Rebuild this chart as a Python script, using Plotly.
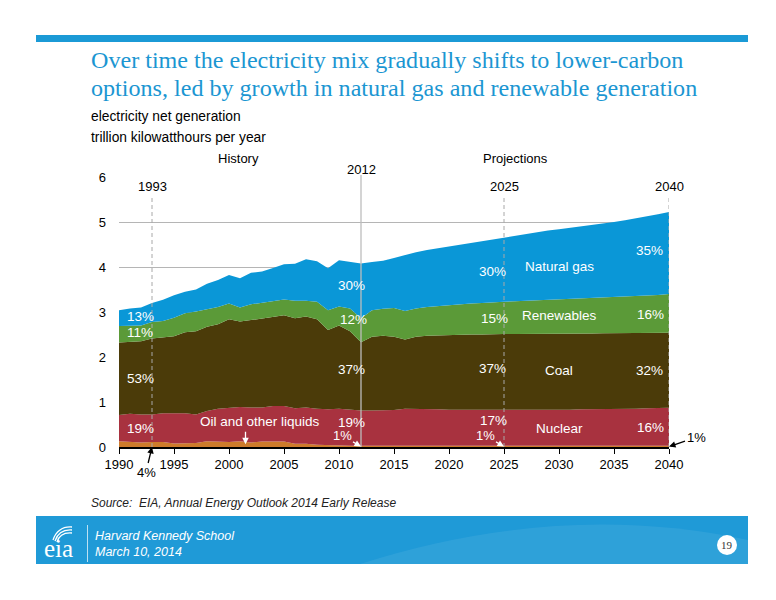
import plotly.graph_objects as go

# ---------------- data (trillion kWh) ----------------
years = list(range(1990, 2041))

oil = [0.13, 0.12, 0.10, 0.11, 0.11, 0.08, 0.08, 0.09, 0.13, 0.12,
       0.11, 0.13, 0.10, 0.12, 0.12, 0.12, 0.07, 0.07, 0.05, 0.04,
       0.04, 0.03, 0.03,
       0.03, 0.03, 0.03, 0.03, 0.03, 0.03, 0.03, 0.03, 0.03, 0.03,
       0.03, 0.03, 0.03, 0.03, 0.03, 0.03, 0.03, 0.03, 0.03, 0.03,
       0.03, 0.03, 0.03, 0.03, 0.03, 0.03, 0.03, 0.03]

nuclear = [0.58, 0.62, 0.62, 0.61, 0.64, 0.67, 0.67, 0.63, 0.67, 0.73,
           0.76, 0.76, 0.78, 0.76, 0.79, 0.79, 0.79, 0.81, 0.80, 0.80,
           0.81, 0.80, 0.78,
           0.78, 0.78, 0.79, 0.82, 0.82, 0.81, 0.81, 0.80, 0.80, 0.80,
           0.79, 0.79, 0.79, 0.79, 0.79, 0.79, 0.79, 0.80, 0.80, 0.81,
           0.81, 0.81, 0.81, 0.82, 0.82, 0.83, 0.83, 0.84]

coal = [1.61, 1.60, 1.63, 1.69, 1.69, 1.71, 1.80, 1.85, 1.87, 1.88,
        1.97, 1.90, 1.94, 1.98, 1.98, 2.02, 2.00, 2.02, 1.99, 1.76,
        1.85, 1.74, 1.52,
        1.64, 1.66, 1.63, 1.54, 1.60, 1.63, 1.64, 1.66, 1.66, 1.67,
        1.68, 1.69, 1.69, 1.69, 1.69, 1.70, 1.70, 1.69, 1.69, 1.68,
        1.68, 1.69, 1.69, 1.68, 1.68, 1.68, 1.68, 1.67]

renewables = [0.37, 0.36, 0.35, 0.37, 0.36, 0.41, 0.42, 0.44, 0.39, 0.38,
              0.35, 0.31, 0.35, 0.35, 0.35, 0.35, 0.39, 0.35, 0.39, 0.44,
              0.42, 0.51, 0.53,
              0.59, 0.60, 0.64, 0.63, 0.63, 0.64, 0.65, 0.67, 0.68, 0.69,
              0.70, 0.71, 0.72, 0.73, 0.74, 0.74, 0.75, 0.76, 0.77, 0.78,
              0.79, 0.79, 0.80, 0.81, 0.82, 0.83, 0.84, 0.86]

natural_gas = [0.35, 0.38, 0.40, 0.42, 0.47, 0.50, 0.48, 0.49, 0.57, 0.60,
               0.63, 0.65, 0.70, 0.69, 0.74, 0.78, 0.82, 0.92, 0.90, 0.93,
               1.03, 1.04, 1.22,
               1.07, 1.07, 1.11, 1.25, 1.25, 1.27, 1.29, 1.29, 1.32, 1.34,
               1.37, 1.39, 1.42, 1.46, 1.49, 1.52, 1.54, 1.56, 1.58, 1.60,
               1.62, 1.65, 1.67, 1.70, 1.73, 1.75, 1.79, 1.82]

series_names = ["Oil and other liquids", "Nuclear", "Coal", "Renewables", "Natural gas"]
series_values = [oil, nuclear, coal, renewables, natural_gas]
series_colors = ["#CD7B2B", "#A8323F", "#4B3B09", "#5B9A38", "#0A97D7"]

x_ticks = list(range(1990, 2041, 5))
y_ticks = [0, 1, 2, 3, 4, 5, 6]

marker_years = [1993, 2025, 2040]
history_end = 2012

title_lines = ["Over time the electricity mix gradually shifts to lower-carbon",
               "options, led by growth in natural gas and renewable generation"]
subtitle_lines = ["electricity net generation", "trillion kilowatthours per year"]
source_text = "Source:  EIA, Annual Energy Outlook 2014 Early Release"

# ---------------- figure ----------------
W, H = 776, 600
L, R, T, B = 119, 107, 177, 153
PW, PH = W - L - R, H - T - B

def pxx(p):
    return (p - L) / PW

def pxy(p):
    return (H - B - p) / PH

fig = go.Figure()
for name, vals, col in zip(series_names, series_values, series_colors):
    fig.add_trace(go.Scatter(
        x=years, y=vals, name=name, stackgroup="one", mode="lines",
        line=dict(width=0, color=col), fillcolor=col, hoverinfo="skip"))

SANS = "Liberation Sans, Arial, sans-serif"
SERIF = "Liberation Serif, Times New Roman, serif"

annotations = []

def txt(x, y, s, size=13, color="black", xanchor="center", ref="data", family=SANS, **kw):
    d = dict(x=x, y=y, text=s, showarrow=False, xanchor=xanchor, yanchor="middle",
             font=dict(family=family, size=size, color=color))
    if ref == "paper":
        d.update(xref="paper", yref="paper")
    d.update(kw)
    annotations.append(d)

# Header texts
txt(pxx(89), pxy(60), title_lines[0], size=24.1, color="#1B96D2", xanchor="left", ref="paper", family=SERIF)
txt(pxx(89), pxy(88), title_lines[1], size=24.1, color="#1B96D2", xanchor="left", ref="paper", family=SERIF)
txt(pxx(89), pxy(117), subtitle_lines[0], size=13.8, xanchor="left", ref="paper")
txt(pxx(89), pxy(137), subtitle_lines[1], size=13.8, xanchor="left", ref="paper")

# Period labels
txt(pxx(238), pxy(158), "History", ref="paper")
txt(pxx(515), pxy(158), "Projections", ref="paper")
txt(history_end, pxy(169), str(history_end), yref="paper")
for yr in marker_years:
    txt(yr, pxy(186.5), str(yr), yref="paper")

# Percent labels inside areas
W_ = "white"
lab = [
    (1991.95, 2.91, "13%"), (1991.95, 2.54, "11%"), (1991.95, 1.53, "53%"), (1991.95, 0.42, "19%"),
    (2011.1, 3.59, "30%"), (2011.3, 2.84, "12%"), (2011.1, 1.73, "37%"), (2011.1, 0.55, "19%"),
    (2023.95, 3.90, "30%"), (2024.1, 2.86, "15%"), (2023.95, 1.75, "37%"), (2024.0, 0.58, "17%"),
    (2030.0, 4.02, "Natural gas"), (2030.0, 2.92, "Renewables"), (2030.0, 1.70, "Coal"), (2030.0, 0.42, "Nuclear"),
    (2038.2, 4.36, "35%"), (2038.3, 2.95, "16%"), (2038.2, 1.70, "32%"), (2038.3, 0.44, "16%"),
    (2002.8, 0.56, "Oil and other liquids"),
]
for x, y, s in lab:
    txt(x, y, s, size=13.5, color=W_)

# Arrow annotations
def arrow(x, y, ax, ay, s, color):
    annotations.append(dict(x=x, y=y, ax=ax, ay=ay, text=s, showarrow=True,
                            arrowhead=2, arrowsize=1, arrowwidth=1.3, arrowcolor=color,
                            standoff=0, startstandoff=0,
                            font=dict(family=SANS, size=13, color=color)))

arrow(1993, 0, -6, 25, "4%", "black")
arrow(2001.5, 0.06, 0, -14, "", "white")
arrow(2012, 0.01, -19, -11, "1%", "white")
arrow(2025, 0.01, -19, -11, "1%", "white")
arrow(2040, 0.01, 27, -9, "1%", "black")

# Source
txt(pxx(89), pxy(503), "<i>" + source_text + "</i>", size=12, color="#222222", xanchor="left", ref="paper",
    family=SANS)

# Footer texts
txt(pxx(93), pxy(536), "<i>Harvard Kennedy School</i>", size=12.5, color="white", xanchor="left", ref="paper")
txt(pxx(93), pxy(552), "<i>March 10, 2014</i>", size=12.5, color="white", xanchor="left", ref="paper")
txt(pxx(58), pxy(548), "eia", size=25, color="white", ref="paper", family=SERIF)
txt(pxx(727), pxy(545), "19", size=11, color="#333333", ref="paper", family=SERIF)

shapes = []
# Header bar
shapes.append(dict(type="rect", xref="paper", yref="paper", x0=pxx(36), x1=pxx(748),
                   y0=pxy(42), y1=pxy(35), fillcolor="#1B9AD6", line=dict(width=0), layer="below"))
# Footer band
shapes.append(dict(type="rect", xref="paper", yref="paper", x0=pxx(36), x1=pxx(748),
                   y0=pxy(564), y1=pxy(516), fillcolor="#1F9AD7", line=dict(width=0), layer="below"))
shapes.append(dict(type="path", xref="paper", yref="paper",
                   path="M {} {} Q {} {} {} {} L {} {} L {} {} Z".format(
                       pxx(360), pxy(564), pxx(560), pxy(500), pxx(748), pxy(540),
                       pxx(748), pxy(564), pxx(360), pxy(564)),
                   fillcolor="rgba(255,255,255,0.07)", line=dict(width=0), layer="below"))
shapes.append(dict(type="line", xref="paper", yref="paper", x0=pxx(87.5), x1=pxx(87.5),
                   y0=pxy(525), y1=pxy(562), line=dict(color="rgba(255,255,255,0.7)", width=1)))
# eia logo arcs
for i, (a, b) in enumerate([(540, 527), (541, 530), (542, 533)]):
    shapes.append(dict(type="path", xref="paper", yref="paper",
                       path="M {} {} Q {} {} {} {}".format(pxx(53 + i * 2), pxy(a),
                                                          pxx(58 + i), pxy(b - 1), pxx(72), pxy(b)),
                       line=dict(color="white", width=1.3)))
# Page number circle
shapes.append(dict(type="circle", xref="paper", yref="paper", x0=pxx(717), x1=pxx(737),
                   y0=pxy(555), y1=pxy(535), fillcolor="white", line=dict(width=0)))

# Vertical markers
shapes.append(dict(type="line", xref="x", yref="paper", x0=history_end, x1=history_end,
                   y0=0, y1=pxy(175), line=dict(color="#BDBDBD", width=1.3), layer="above"))
for yr in marker_years:
    shapes.append(dict(type="line", xref="x", yref="paper", x0=yr, x1=yr,
                       y0=0, y1=pxy(196), line=dict(color="#A8A8A8", width=1, dash="4px,3px"),
                       layer="above"))

fig.update_layout(
    width=W, height=H, margin=dict(l=L, r=R, t=T, b=B),
    paper_bgcolor="white", plot_bgcolor="white", showlegend=False,
    annotations=annotations, shapes=shapes,
    font=dict(family=SANS, size=13, color="black"),
)
fig.update_xaxes(range=[1990, 2040], tickvals=x_ticks, ticks="outside", ticklen=5,
                 tickcolor="black", showline=True, linecolor="black", linewidth=1.5,
                 showgrid=False, zeroline=False, tickfont=dict(size=13, family=SANS))
fig.update_yaxes(range=[0, 6], tickvals=y_ticks, showgrid=True, gridcolor="#B5B5B5", gridwidth=1.3,
                 zeroline=False, showline=False, ticks="", ticklabelstandoff=12,
                 tickfont=dict(size=13, family=SANS))

fig.write_html("out.html", config={"displayModeBar": False},
               post_script="document.body.style.margin='0';document.body.style.overflow='hidden';")
